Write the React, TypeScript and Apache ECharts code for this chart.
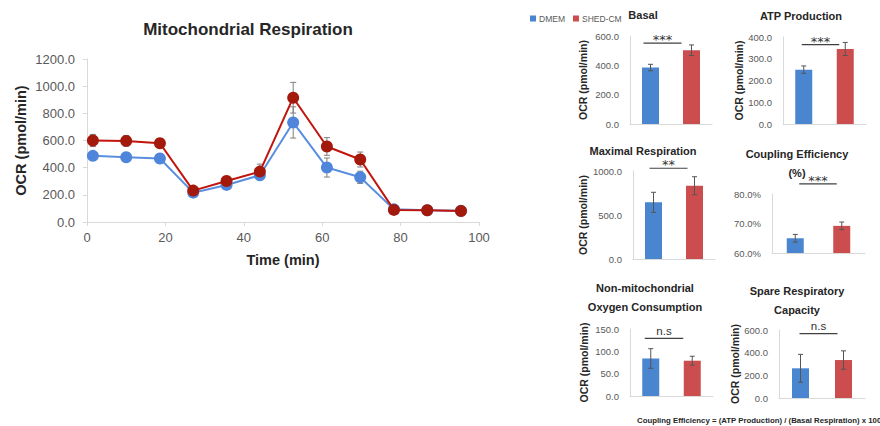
import React, { useEffect, useRef } from 'react';
import * as echarts from 'echarts';

// ---- Time course data (Mitochondrial Respiration) ----
const TIME = [1.5, 10, 18.6, 27.1, 35.6, 44.1, 52.6, 61.2, 69.7, 78.3, 86.8, 95.4];
const DMEM_OCR = [487, 477, 467, 216, 273, 344, 733, 401, 329, 93, 86, 82];
const DMEM_ERR = [20, 20, 20, 15, 20, 25, 115, 70, 45, 15, 10, 10];
const SHED_OCR = [600, 597, 580, 231, 302, 371, 915, 556, 460, 89, 86, 81];
const SHED_ERR = [45, 40, 30, 20, 25, 55, 113, 65, 55, 15, 10, 10];

// ---- Panel data ----
const GROUPS = ['DMEM', 'SHED-CM'];
const PANEL_TITLES = [
  'Basal',
  'ATP Production',
  'Maximal Respiration',
  'Coupling Efficiency\n(%)',
  'Non-mitochondrial\nOxygen Consumption',
  'Spare Respiratory\nCapacity',
];
const PANEL_DMEM = [385, 250, 644, 65.0, 84, 262];
const PANEL_DMEM_ERR = [22, 17, 114, 1.3, 22, 123];
const PANEL_SHED = [503, 345, 833, 69.2, 79, 335];
const PANEL_SHED_ERR = [36, 30, 102, 1.3, 10, 81];
const PANEL_MIN = [0, 0, 0, 60, 0, 0];
const PANEL_MAX = [600, 400, 1000, 80, 150, 600];
const PANEL_INTERVAL = [200, 100, 500, 10, 50, 200];
const PANEL_UNIT = ['', '', '', '%', '', ''];
const PANEL_YNAME = ['OCR (pmol/min)', 'OCR (pmol/min)', 'OCR (pmol/min)', '', 'OCR (pmol/min)', 'OCR (pmol/min)'];
const SIG_LABELS = ['***', '***', '**', '***', 'n.s', 'n.s'];
const SIG_LEVEL = [552, 365, 1031, 83.4, 129, 568];

const FOOTNOTE = 'Coupling Efficiency = (ATP Production) / (Basal Respiration) x 100';

// ---- Layout (positions only) ----
const PANEL_LAYOUT = [
  { left: 630, top: 36, width: 82, height: 88, titleX: 643, titleY: 15, nameGap: 42, sx1: -7, sx2: -10 },
  { left: 783, top: 37, width: 83, height: 87, titleX: 801, titleY: 16, nameGap: 27, sx1: -2, sx2: -6 },
  { left: 633, top: 171, width: 82, height: 88, titleX: 643, titleY: 151, nameGap: 45, sx1: -4, sx2: -7 },
  { left: 772, top: 194, width: 93, height: 59, titleX: 797, titleY: 154, nameGap: 0, sx1: 4, sx2: -5 },
  { left: 630, top: 329, width: 83, height: 67, titleX: 645, titleY: 288, nameGap: 41, sx1: -6, sx2: -9 },
  { left: 779, top: 330, width: 86, height: 68, titleX: 797, titleY: 291, nameGap: 38, sx1: -1, sx2: -6 },
];
const TITLE_LINE_STEP = 19;

const FONT = '"Liberation Sans", Arial, sans-serif';
const GRAY = '#595959';
const AXIS_GRAY = '#d9d9d9';
const TEXT_DARK = '#262626';
const BAR_BLUE = '#4a86cf';
const BAR_RED = '#cc4d4d';
const LINE_BLUE = '#5a8fe0';
const MARK_BLUE = '#4f86db';
const LINE_RED = '#c0140c';
const MARK_RED = '#a31a0c';

function errorBarRender(capHalf: number, color: string) {
  return (params: any, api: any) => {
    const x = api.value(0);
    const y = api.value(1);
    const e = api.value(2);
    const top = api.coord([x, y + e]);
    const bot = api.coord([x, y - e]);
    const style = { stroke: color, lineWidth: 1 };
    return {
      type: 'group',
      children: [
        { type: 'line', shape: { x1: top[0], y1: top[1], x2: bot[0], y2: bot[1] }, style },
        { type: 'line', shape: { x1: top[0] - capHalf, y1: top[1], x2: top[0] + capHalf, y2: top[1] }, style },
        { type: 'line', shape: { x1: bot[0] - capHalf, y1: bot[1], x2: bot[0] + capHalf, y2: bot[1] }, style },
      ],
    };
  };
}

export default function App() {
  const ref = useRef<HTMLDivElement>(null);

  useEffect(() => {
    if (!ref.current) return;
    const chart = echarts.init(ref.current, undefined, { renderer: 'svg' });

    const grids: any[] = [{ left: 87, top: 59, width: 392, height: 163 }];
    const xAxes: any[] = [
      {
        type: 'value',
        gridIndex: 0,
        min: 0,
        max: 100,
        interval: 20,
        name: 'Time (min)',
        nameLocation: 'middle',
        nameGap: 30,
        nameTextStyle: { fontSize: 14.5, fontWeight: 'bold', color: TEXT_DARK, fontFamily: FONT },
        axisLine: { show: true, lineStyle: { color: AXIS_GRAY, width: 1 } },
        axisTick: { show: true, length: 4, lineStyle: { color: AXIS_GRAY } },
        splitLine: { show: false },
        axisLabel: { color: GRAY, fontSize: 13, fontFamily: FONT, margin: 9 },
      },
    ];
    const yAxes: any[] = [
      {
        type: 'value',
        gridIndex: 0,
        min: 0,
        max: 1200,
        interval: 200,
        name: 'OCR (pmol/min)',
        nameLocation: 'middle',
        nameGap: 59,
        nameTextStyle: { fontSize: 14.5, fontWeight: 'bold', color: TEXT_DARK, fontFamily: FONT },
        axisLine: { show: true, lineStyle: { color: AXIS_GRAY, width: 1 } },
        axisTick: { show: true, length: 4, lineStyle: { color: AXIS_GRAY } },
        splitLine: { show: false },
        axisLabel: {
          color: GRAY,
          fontSize: 13,
          fontFamily: FONT,
          margin: 12,
          formatter: (v: number) => v.toFixed(1),
        },
      },
    ];
    const series: any[] = [
      {
        name: 'DMEM err',
        type: 'custom',
        xAxisIndex: 0,
        yAxisIndex: 0,
        z: 1,
        renderItem: errorBarRender(3, '#7f7f7f'),
        data: TIME.map((t, i) => [t, DMEM_OCR[i], DMEM_ERR[i]]),
      },
      {
        name: 'SHED-CM err',
        type: 'custom',
        xAxisIndex: 0,
        yAxisIndex: 0,
        z: 1,
        renderItem: errorBarRender(3, '#7f7f7f'),
        data: TIME.map((t, i) => [t, SHED_OCR[i], SHED_ERR[i]]),
      },
      {
        name: 'DMEM time course',
        type: 'line',
        xAxisIndex: 0,
        yAxisIndex: 0,
        z: 3,
        symbol: 'circle',
        symbolSize: 12,
        lineStyle: { color: LINE_BLUE, width: 2 },
        itemStyle: { color: MARK_BLUE },
        data: TIME.map((t, i) => [t, DMEM_OCR[i]]),
      },
      {
        name: 'SHED-CM time course',
        type: 'line',
        xAxisIndex: 0,
        yAxisIndex: 0,
        z: 4,
        symbol: 'circle',
        symbolSize: 12,
        lineStyle: { color: LINE_RED, width: 2 },
        itemStyle: { color: MARK_RED },
        data: TIME.map((t, i) => [t, SHED_OCR[i]]),
      },
    ];

    const titles: any[] = [
      {
        text: 'Mitochondrial Respiration',
        left: 248,
        top: 19,
        textAlign: 'center',
        padding: 0,
        textStyle: { fontSize: 17, fontWeight: 'bold', color: TEXT_DARK, fontFamily: FONT, lineHeight: 20 },
      },
    ];

    PANEL_TITLES.forEach((title, i) => {
      const L = PANEL_LAYOUT[i];
      const gi = i + 1;
      grids.push({ left: L.left, top: L.top, width: L.width, height: L.height });
      title.split('\n').forEach((line, k) => {
        titles.push({
          text: line,
          left: L.titleX,
          top: L.titleY + k * TITLE_LINE_STEP - 6.5,
          textAlign: 'center',
          padding: 0,
          textStyle: { fontSize: 11, fontWeight: 'bold', color: TEXT_DARK, fontFamily: FONT, lineHeight: 13 },
        });
      });
      xAxes.push({
        type: 'category',
        gridIndex: gi,
        data: GROUPS,
        axisLine: { show: true, lineStyle: { color: AXIS_GRAY, width: 1 } },
        axisTick: { show: false },
        axisLabel: { show: false },
        splitLine: { show: false },
      });
      const unit = PANEL_UNIT[i];
      yAxes.push({
        type: 'value',
        gridIndex: gi,
        min: PANEL_MIN[i],
        max: PANEL_MAX[i],
        interval: PANEL_INTERVAL[i],
        name: PANEL_YNAME[i],
        nameLocation: 'middle',
        nameGap: L.nameGap,
        nameTextStyle: { fontSize: 10.5, fontWeight: 'bold', color: TEXT_DARK, fontFamily: FONT },
        axisLine: { show: true, lineStyle: { color: AXIS_GRAY, width: 1 } },
        axisTick: { show: false },
        splitLine: { show: false },
        axisLabel: {
          color: GRAY,
          fontSize: 9.5,
          fontFamily: FONT,
          margin: 11,
          formatter: (v: number) => v.toFixed(1) + unit,
        },
      });
      series.push(
        {
          name: 'DMEM',
          type: 'bar',
          xAxisIndex: gi,
          yAxisIndex: gi,
          barWidth: 17,
          barGap: '-100%',
          itemStyle: { color: BAR_BLUE },
          data: [PANEL_DMEM[i], '-'],
          z: 2,
        },
        {
          name: 'SHED-CM',
          type: 'bar',
          xAxisIndex: gi,
          yAxisIndex: gi,
          barWidth: 17,
          barGap: '-100%',
          itemStyle: { color: BAR_RED },
          data: ['-', PANEL_SHED[i]],
          z: 2,
        },
        {
          name: 'panel err ' + i,
          type: 'custom',
          xAxisIndex: gi,
          yAxisIndex: gi,
          z: 5,
          renderItem: errorBarRender(2.5, '#555555'),
          data: [
            [0, PANEL_DMEM[i], PANEL_DMEM_ERR[i]],
            [1, PANEL_SHED[i], PANEL_SHED_ERR[i]],
          ],
        },
        {
          name: 'panel sig ' + i,
          type: 'custom',
          xAxisIndex: gi,
          yAxisIndex: gi,
          z: 6,
          clip: false,
          renderItem: (params: any, api: any) => {
            const level = api.value(1);
            const p0 = api.coord([0, level]);
            const p1 = api.coord([1, level]);
            const x1 = p0[0] + L.sx1;
            const x2 = p1[0] + L.sx2;
            const label = SIG_LABELS[i];
            const isStar = label.indexOf('*') >= 0;
            return {
              type: 'group',
              children: [
                {
                  type: 'line',
                  shape: { x1, y1: p0[1], x2, y2: p0[1] },
                  style: { stroke: '#404040', lineWidth: 1.2 },
                },
                {
                  type: 'text',
                  style: isStar
                    ? {
                        text: label,
                        x: (x1 + x2) / 2,
                        y: p0[1] - 3.5,
                        align: 'center',
                        verticalAlign: 'middle',
                        fill: '#333333',
                        fontSize: 13,
                        lineHeight: 13,
                        fontFamily: '"DejaVu Sans", sans-serif',
                      }
                    : {
                        text: label,
                        x: (x1 + x2) / 2,
                        y: p0[1] - 1.5,
                        align: 'center',
                        verticalAlign: 'bottom',
                        fill: '#333333',
                        fontSize: 11.5,
                        lineHeight: 12,
                        fontFamily: FONT,
                      },
                },
              ],
            };
          },
          data: [[0.5, SIG_LEVEL[i]]],
        }
      );
    });

    chart.setOption({
      animation: false,
      backgroundColor: '#ffffff',
      title: titles,
      legend: {
        left: 530,
        top: 14,
        itemWidth: 6,
        itemHeight: 6,
        itemGap: 8,
        icon: 'rect',
        padding: 0,
        data: [
          { name: 'DMEM', itemStyle: { color: BAR_BLUE } },
          { name: 'SHED-CM', itemStyle: { color: BAR_RED } },
        ],
        textStyle: { fontSize: 8.5, color: GRAY, fontFamily: FONT, padding: [0, 0, 0, -2] },
        selectedMode: false,
      },
      grid: grids,
      xAxis: xAxes,
      yAxis: yAxes,
      series,
      graphic: [
        {
          type: 'text',
          left: 637,
          top: 416,
          style: {
            text: FOOTNOTE,
            fill: TEXT_DARK,
            font: 'bold 7.8px "Liberation Sans", Arial, sans-serif',
          },
        },
      ],
    });

    return () => {
      chart.dispose();
    };
  }, []);

  return (
    <div
      ref={ref}
      style={{ position: 'fixed', left: 0, top: 0, width: 880, height: 426, background: '#fff' }}
    />
  );
}
